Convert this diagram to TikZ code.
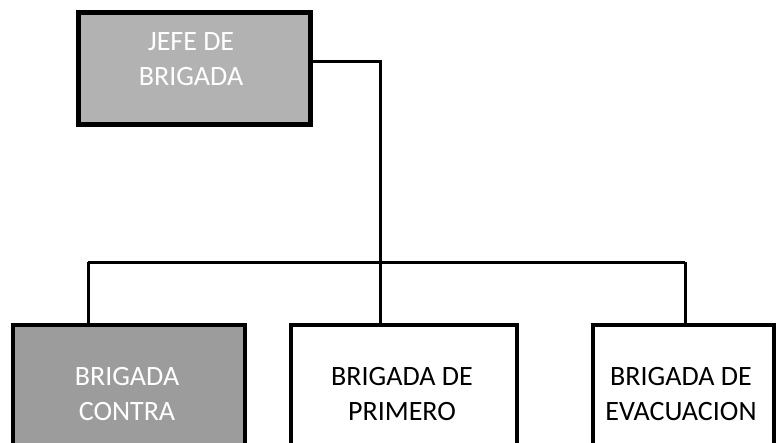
\documentclass[tikz,border=0pt]{standalone}
\usepackage{fontspec}
\setmainfont{Carlito}
\begin{document}
\begin{tikzpicture}[x=1pt,y=-1pt,
  box/.style={draw=black, line width=3.5pt, inner sep=0pt, anchor=north west},
  lbl/.style={align=center, inner sep=0pt, font=\fontsize{28}{35}\selectfont},
  conn/.style={draw=black, line width=3pt}]
\useasboundingbox (0,0) rectangle (784,442);
\clip (0,0) rectangle (784,442);
% boxes
\node[box, line width=4.5pt, fill=gray!60, minimum width=232pt, minimum height=112pt] (jefe) at (76,10) {};
\node[box, fill=gray!78, minimum width=232pt, minimum height=150pt] (contra) at (11,323) {};
\node[box, fill=white, minimum width=226pt, minimum height=150pt] (primero) at (289,323) {};
\node[box, fill=white, minimum width=181pt, minimum height=150pt] (evac) at (591,323) {};
% texts
\node[lbl, text=white] (tjefe) at (191,59) {JEFE DE\\BRIGADA};
\node[lbl, text=white] (tcontra) at (127,394) {BRIGADA\\CONTRA};
\node[lbl] (tprimero) at (402,394) {BRIGADA DE\\PRIMERO};
\node[lbl] (tevac) at (681,394) {BRIGADA DE\\EVACUACION};
% connectors
\coordinate (busL) at (88,262);
\coordinate (busR) at (685,262);
\coordinate (busM) at (380,262);
\draw[conn] ([yshift=7pt]jefe.east) -| (primero.north -| busM);
\draw[conn] (busL) -- (busR);
\draw[conn] (busL) -- (contra.north -| busL);
\draw[conn] (busR) -- (evac.north -| busR);
\end{tikzpicture}
\end{document}
